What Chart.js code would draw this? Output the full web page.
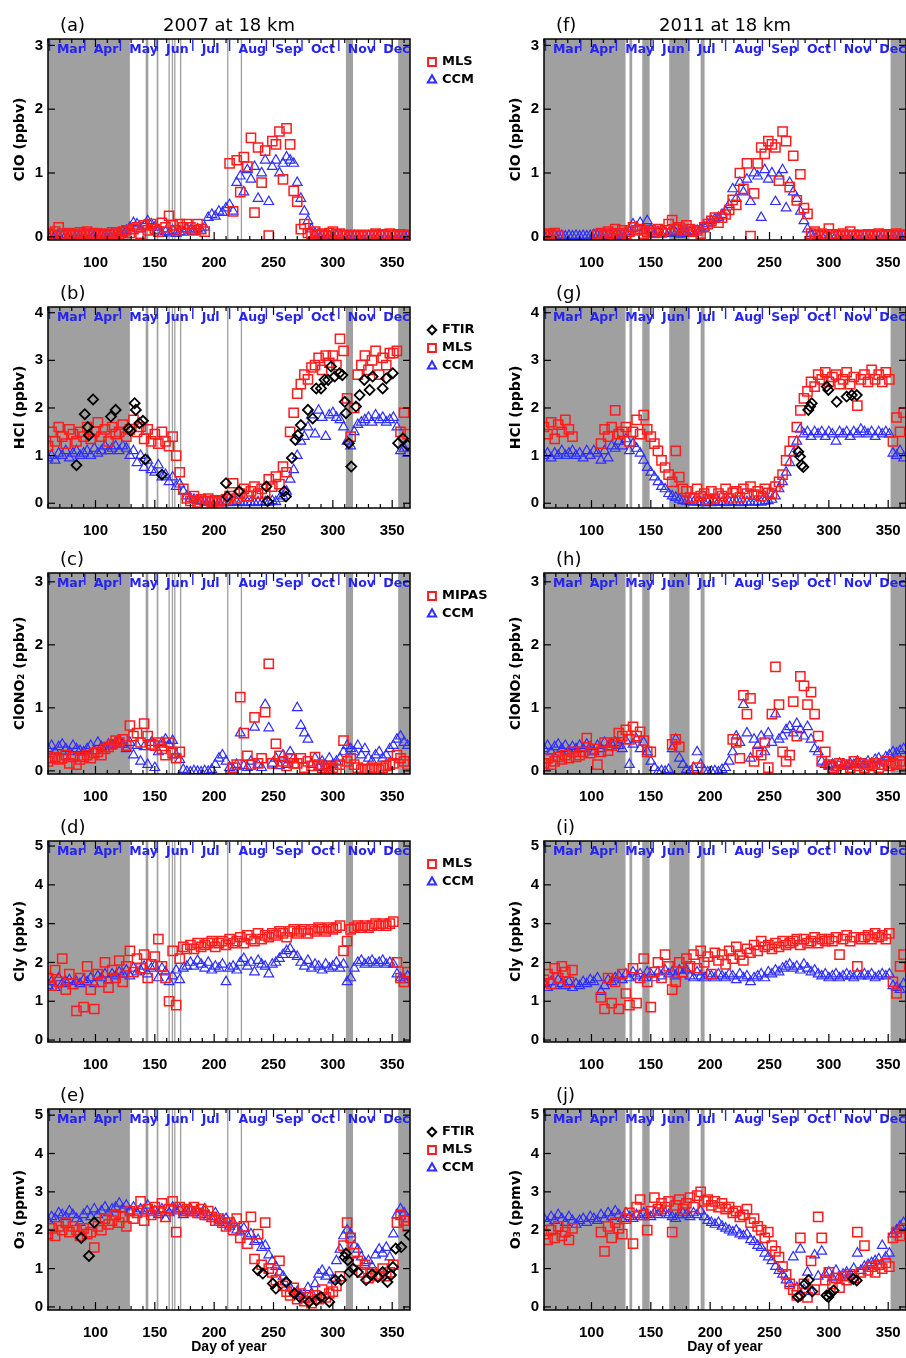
<!DOCTYPE html>
<html>
<head>
<meta charset="utf-8">
<title>Chlorine species and ozone at 18 km, 2007 and 2011</title>
<script src="https://cdn.jsdelivr.net/npm/chart.js@4.4.0/dist/chart.umd.min.js"></script>
<style>
  html, body { margin: 0; padding: 0; background: #fff; }
  body { width: 906px; height: 1358px; overflow: hidden; position: relative; }
  canvas { position: absolute; }
</style>
</head>
<body>
<script>
// ---------- sampling days (day of year) ----------
const DAYS = [60,63,66,69,72,75,78,81,84,87, 90,93,96,99,102,105,108,111,114,117,
  120,123,126,129,132,135,138,141,144,147, 150,153,156,159,162,165,168,171,174,177,
  180,183,186,189,192,195,198,201,204,207, 210,213,216,219,222,225,228,231,234,237,
  240,243,246,249,252,255,258,261,264,267, 270,273,276,279,282,285,288,291,294,297,
  300,303,306,309,312,315,318,321,324,327, 330,333,336,339,342,345,348,351,354,357,
  360,363];

const X_TICKS = [100, 150, 200, 250, 300, 350];
const MONTHS = ['Mar','Apr','May','Jun','Jul','Aug','Sep','Oct','Nov','Dec'];
const MONTH_START = [60, 91, 121, 152, 182, 213, 244, 274, 305, 335];

// shaded periods (day ranges)
const SHADE_2007 = [[60,129],[142.3,144.5],[151.6,153],[161.5,162.1],[164.3,164.9],[166.3,166.9],
  [171.2,172.3],[210.9,211.5],[222.4,223],[311,317],[355,365]];
const SHADE_2011 = [[60,128.7],[132,134.3],[142.8,149],[165.5,182.6],[192,195.3],[352,365]];

// ---------- ClO (ppbv) ----------
const CLO_MLS_2007 = [0.05,0.03,0.08,0.15,0.05,0.02,0.06,0.04,0.03,0.07,
  0.05,0.08,0.04,0.06,0.03,0.05,0.02,0.04,0.07,0.05,
  0.04,0.08,0.1,0.06,0.12,0.15,0.05,0.18,0.1,0.2,
  0.12,0.08,0.22,0.15,0.33,0.18,0.1,0.2,0.15,0.2,
  0.15,0.1,0.2,0.12,0.08,null,null,null,null,null,
  null,1.15,0.4,1.2,0.7,1.25,1.1,1.55,0.38,1.4,
  0.85,1.35,0.02,1.5,1.45,1.65,0.9,1.7,1.45,0.72,
  0.55,0.12,0.2,0.06,0.04,0.08,0.03,0.05,0.02,0.06,
  0.08,0.04,0.05,0.02,0.03,0.01,0.02,0.03,0.01,0.02,
  0.03,0.02,0.05,0.03,0.04,0.02,0.05,0.03,0.02,0.04,
  0.03,0.02];
const CLO_CCM_2007 = [0.02,0.03,0.01,0.02,0.03,0.02,0.01,0.03,0.02,0.02,
  0.02,0.03,0.02,0.01,0.03,0.04,0.02,0.03,0.05,0.04,
  0.06,0.08,0.1,0.15,0.22,0.2,0.12,0.18,0.25,0.2,
  0.15,0.1,0.05,0.08,0.06,0.1,0.05,0.08,0.07,0.12,
  0.1,0.08,0.12,0.1,0.15,0.3,0.35,0.32,0.4,0.38,
  0.45,0.5,0.4,0.85,0.95,0.7,1.05,0.9,1.1,0.6,
  1.0,1.2,0.55,1.1,1.2,1.0,1.15,1.25,1.2,1.15,
  0.85,0.6,0.4,0.25,0.12,0.05,0.03,0.02,0.02,0.01,
  0.02,0.01,0.01,0.02,0.01,0.01,0.02,0.01,0.01,0.01,
  0.01,0.02,0.01,0.01,0.02,0.01,0.01,0.02,0.01,0.01,
  0.02,0.01];
const CLO_MLS_2011 = [0.03,0.05,0.04,0.06,0.02,null,null,null,null,null,
  null,null,null,null,null,0.04,0.06,0.03,0.08,0.05,
  0.12,0.06,0.1,0.04,0.08,0.15,0.1,0.12,0.05,0.08,
  0.1,0.06,0.12,0.08,0.1,0.2,0.26,0.12,0.15,0.1,
  0.18,0.12,0.08,0.1,0.05,0.15,0.2,0.25,0.3,0.22,
  0.3,0.35,0.42,0.58,0.5,1.0,0.75,1.15,0.01,0.68,
  1.15,1.4,1.3,1.5,1.45,1.4,0.88,1.65,1.5,0.78,
  1.27,0.57,0.98,0.45,0.36,0.05,0.08,0.03,0.05,0.02,
  0.13,0.04,0.03,0.02,0.05,0.02,0.08,0.03,0.02,0.03,
  0.02,0.04,0.03,0.02,0.05,0.03,0.04,0.02,0.03,0.05,
  0.02,0.03];
const CLO_CCM_2011 = [0.01,0.02,0.01,0.02,0.01,0.02,0.01,0.02,0.01,0.02,
  0.01,0.02,0.01,0.02,0.03,0.02,0.01,0.02,0.03,0.02,
  0.03,0.02,0.04,0.05,0.08,0.2,0.15,0.22,0.1,0.25,
  0.12,0.05,0.08,0.04,0.06,0.05,0.08,0.06,0.04,0.06,
  0.05,0.08,0.06,0.1,0.12,0.15,0.2,0.25,0.28,0.3,
  0.35,0.4,0.5,0.75,0.6,0.85,0.7,0.9,0.55,1.0,
  0.95,0.3,1.05,0.9,1.0,0.55,0.95,1.05,0.45,0.85,
  0.7,0.6,0.4,0.25,0.12,0.05,0.02,0.01,0.01,0.01,
  0.01,0.02,0.01,0.01,0.02,0.01,0.01,0.02,0.01,0.01,
  0.02,0.01,0.01,0.02,0.01,0.01,0.02,0.01,0.01,0.02,
  0.01,0.02];

// ---------- HCl (ppbv) ----------
const HCL_MLS_2007 = [1.2,1.5,1.3,1.6,1.4,1.25,1.55,1.45,1.3,1.5,
  1.4,1.6,1.35,1.5,1.7,1.4,1.55,1.3,1.6,1.45,
  1.5,1.65,1.4,1.55,1.75,1.5,1.6,1.35,1.55,1.3,
  1.45,1.25,1.5,1.3,1.2,1.4,1.0,0.65,0.3,0.1,
  0.05,0.15,0.02,0.08,0.05,0.1,0.03,0.06,0.04,0.05,
  0.08,0.15,0.42,0.1,0.2,0.3,0.15,0.25,0.35,0.2,
  0.3,0.2,0.5,0.35,0.56,0.4,0.77,0.65,1.5,1.9,
  2.3,2.5,2.7,2.6,2.85,2.9,3.05,2.8,3.1,2.95,
  3.1,2.9,3.45,3.2,2.2,1.4,2.0,2.7,2.9,3.1,
  2.8,3.0,3.2,2.7,3.05,2.9,3.15,3.15,3.2,1.5,
  1.9,1.45];
const HCL_CCM_2007 = [0.95,1.0,0.9,1.05,1.0,1.1,0.95,1.05,1.1,1.0,
  1.05,1.1,1.0,1.15,1.05,1.1,1.2,1.1,1.15,1.2,
  1.1,1.2,1.15,1.0,1.1,0.85,1.0,0.75,0.9,0.7,
  0.65,0.8,0.55,0.6,0.45,0.55,0.35,0.4,0.25,0.15,
  0.1,0.08,0.05,0.04,0.03,0.02,0.03,0.02,0.01,0.02,
  0.02,0.01,0.02,0.03,0.02,0.01,0.02,0.02,0.01,0.03,
  0.02,0.03,0.02,0.05,0.03,0.1,0.15,0.25,0.5,0.7,
  1.0,1.3,1.4,1.6,1.85,1.45,1.95,1.8,1.4,1.85,
  1.9,1.8,1.75,1.6,1.3,1.2,1.5,1.65,1.7,1.75,
  1.8,1.7,1.85,1.75,1.8,1.7,1.75,1.8,1.6,1.1,
  1.15,1.05];
const HCL_FTIR_2007_DAY = [84,91,93.5,94.5,98,113,117,128,129.5,133,134,137,140,142,156,
  210,211,221,244,245,259,260.5,265.5,268.5,270.5,273,279,283,286,290,293,296,298.5,
  301.5,305.5,308,310,311,313.5,315.5,319.5,322.5,326.5,331,333.5,342,345,350.5,355,359,363];
const HCL_FTIR_2007 = [0.8,1.87,1.6,1.43,2.18,1.82,1.96,1.57,1.52,2.1,1.96,1.68,1.73,0.92,0.6,
  0.42,0.14,0.25,0.35,0.04,0.25,0.14,0.95,1.33,1.43,1.64,1.96,1.78,2.41,2.41,2.59,2.59,2.87,
  2.66,2.73,2.69,2.13,1.89,1.26,0.77,2.03,2.27,2.59,2.38,2.66,2.41,2.62,2.73,1.26,1.36,1.22];
const HCL_MLS_2011 = [1.6,1.45,1.7,1.35,1.65,1.5,1.75,1.55,1.4,null,
  null,null,null,null,null,null,1.25,1.55,1.4,1.6,
  1.95,1.45,1.5,1.6,1.3,1.5,1.75,1.45,1.85,1.55,
  1.4,1.25,1.1,0.9,0.75,0.6,0.45,1.1,0.55,0.3,
  0.25,0.12,0.1,0.3,0.15,0.2,0.08,0.25,0.1,0.2,
  0.15,0.3,0.1,0.22,0.25,0.12,0.3,0.2,0.35,0.18,
  0.25,0.15,0.3,0.22,0.2,0.35,0.45,0.6,0.9,1.1,
  1.3,1.6,1.95,2.2,2.35,2.55,2.45,2.7,2.6,2.75,
  2.55,2.65,2.7,2.5,2.6,2.75,2.5,2.65,2.05,2.6,
  2.7,2.55,2.8,2.6,2.7,2.55,2.75,2.6,1.3,1.8,
  1.5,1.9];
const HCL_CCM_2011 = [1.0,1.05,0.95,1.05,1.0,1.1,1.0,1.05,1.1,1.0,
  1.05,0.95,1.1,1.0,1.1,1.05,0.9,1.1,0.95,1.2,
  1.15,1.3,1.2,1.35,1.1,1.25,1.15,1.05,0.9,0.75,
  0.65,0.55,0.45,0.35,0.3,0.2,0.15,0.12,0.08,0.05,
  0.04,0.03,0.02,0.03,0.02,0.01,0.02,0.01,0.02,0.03,
  0.02,0.01,0.02,0.03,0.02,0.01,0.02,0.03,0.02,0.02,
  0.03,0.02,0.04,0.05,0.08,0.15,0.3,0.45,0.65,0.85,
  1.05,1.3,1.55,1.45,1.5,1.4,1.5,1.45,1.5,1.4,
  1.5,1.45,1.3,1.5,1.45,1.5,1.4,1.5,1.45,1.55,
  1.5,1.45,1.5,1.4,1.5,1.45,1.5,1.45,1.05,1.0,
  1.1,0.95];
const HCL_FTIR_2011_DAY = [274.3,275.7,277.1,278.5,282.7,284.2,285.6,298.2,299.6,306.6,315,319.3,323.5];
const HCL_FTIR_2011 = [1.08,0.98,0.8,0.76,1.96,2.03,2.1,2.45,2.38,2.13,2.24,2.27,2.27];

// ---------- ClONO2 (ppbv) ----------
const CLONO2_MIPAS_2007 = [0.15,0.2,0.22,0.18,0.2,0.25,0.12,0.22,0.1,0.18,
  0.22,0.25,0.2,0.28,0.3,0.25,0.35,0.38,0.42,0.48,
  0.45,0.5,0.4,0.72,0.55,0.6,0.45,0.75,0.55,0.42,
  0.4,0.45,0.35,0.25,0.45,0.28,0.2,0.3,null,null,
  null,null,null,null,null,null,null,null,null,null,
  null,null,0.05,0.1,1.17,0.6,0.24,0.1,0.85,0.12,
  0.2,0.93,1.7,0.12,0.43,0.24,0.15,0.08,0.2,0.12,
  0.12,0.2,0.05,0.15,0.08,0.22,0.1,0.05,0.08,0.03,
  0.05,0.02,0.1,0.48,0.15,0.2,0.1,0.05,0.02,0.03,
  0.02,0.05,0.03,0.02,0.05,0.08,0.1,0.12,0.25,0.2,
  0.15,0.1];
const CLONO2_CCM_2007 = [0.35,0.4,0.3,0.38,0.42,0.35,0.3,0.4,0.35,0.32,
  0.3,0.35,0.4,0.32,0.45,0.38,0.35,0.42,0.4,0.45,
  0.48,0.42,0.35,0.45,0.25,0.4,0.15,0.38,0.1,0.45,
  0.05,0.3,0.45,0.5,0.42,0.48,0.25,0.18,0.02,-0.01,
  -0.02,0.0,-0.01,-0.02,0.0,-0.01,0.02,0.1,0.2,0.25,
  0.15,0.05,0.02,0.1,0.6,0.08,0.05,0.15,0.69,0.1,
  0.05,1.05,0.68,0.12,0.2,0.08,0.25,0.1,0.3,0.2,
  1.0,0.72,0.6,0.5,0.1,0.2,0.05,0.15,0.08,0.2,
  0.1,0.15,0.2,0.3,0.4,0.35,0.3,0.4,0.25,0.35,
  0.2,0.15,0.25,0.3,0.2,0.25,0.35,0.4,0.5,0.55,
  0.45,0.4];
const CLONO2_MIPAS_2011 = [0.12,0.2,0.1,0.15,0.22,0.18,0.25,0.2,0.3,0.22,
  0.25,0.3,0.52,0.28,0.35,0.1,0.3,0.45,0.32,0.4,
  0.45,0.6,0.55,0.65,0.5,0.7,0.55,0.62,0.48,0.3,
  0.3,null,null,null,null,null,0.42,0.5,0.38,null,
  null,null,null,0.05,null,null,null,null,null,null,
  null,null,null,0.5,0.45,0.2,1.2,0.9,1.15,0.15,
  0.3,0.25,0.45,0.05,0.9,1.65,1.05,0.3,0.15,0.25,
  1.1,0.55,1.5,1.35,1.05,1.25,0.9,0.55,0.15,0.3,
  0.1,0.05,0.08,0.12,0.02,0.1,0.05,0.15,0.08,0.12,
  0.05,0.1,0.08,0.12,0.05,0.1,0.15,0.08,0.12,0.1,
  0.15,0.1];
const CLONO2_CCM_2011 = [0.35,0.4,0.3,0.38,0.42,0.35,0.4,0.32,0.38,0.35,
  0.4,0.35,0.42,0.38,0.3,0.4,0.35,0.45,0.38,0.42,
  0.45,0.4,0.35,0.48,0.1,0.42,0.5,0.35,0.45,0.3,
  0.15,0.05,-0.02,0.0,-0.01,0.02,0.35,0.5,0.2,0.1,
  0.02,-0.01,0.05,0.3,0.1,0.0,-0.02,-0.01,0.0,-0.02,
  0.02,0.05,0.15,0.3,0.55,0.45,1.05,0.6,0.2,0.5,
  0.4,0.55,0.3,0.6,0.45,0.9,0.5,0.55,0.65,0.7,
  0.6,0.75,0.65,0.55,0.7,0.5,0.35,0.3,0.15,0.1,
  0.08,0.1,0.05,0.12,0.1,0.08,0.12,0.1,0.15,0.12,
  0.1,0.15,0.12,0.18,0.2,0.15,0.22,0.25,0.3,0.28,
  0.32,0.35];

// ---------- Cly (ppbv) ----------
const CLY_MLS_2007 = [1.6,1.4,1.8,1.5,2.1,1.3,1.7,1.45,0.75,1.6,
  0.85,1.9,1.3,0.8,1.7,1.5,2.0,1.35,1.8,1.6,
  2.05,1.5,1.9,2.3,1.75,2.1,1.85,2.2,1.6,1.95,
  2.15,2.6,1.9,1.6,1.0,2.3,0.9,2.1,2.4,2.35,
  2.45,2.35,2.5,2.4,2.45,2.5,2.55,2.4,2.5,2.55,
  2.45,2.6,2.5,2.55,2.65,2.5,2.7,2.6,2.55,2.75,
  2.6,2.7,2.65,2.75,2.7,2.8,2.75,2.65,2.8,2.85,
  2.75,2.8,2.85,2.75,2.85,2.8,2.9,2.85,2.8,2.9,
  2.85,2.9,2.95,2.3,2.55,2.85,2.9,2.95,2.9,2.95,
  2.9,2.95,3.0,2.95,3.0,2.95,3.0,3.05,2.0,1.6,
  1.5,1.75];
const CLY_CCM_2007 = [1.4,1.5,1.35,1.6,1.45,1.5,1.55,1.4,1.5,1.45,
  1.55,1.5,1.6,1.45,1.65,1.6,1.7,1.55,1.7,1.65,
  1.75,1.7,1.8,1.65,1.85,1.75,1.8,1.9,1.7,1.85,
  1.9,1.6,1.85,1.75,1.5,1.65,1.8,1.55,1.85,1.9,
  2.0,1.9,2.05,1.95,1.85,2.0,1.8,1.9,1.85,1.95,
  1.5,1.85,1.9,1.8,2.0,2.1,1.9,2.0,1.75,2.05,
  1.95,1.9,1.7,1.95,2.0,2.1,2.2,2.3,2.35,2.2,
  2.15,2.0,1.9,2.05,1.85,1.95,1.9,1.8,1.95,1.85,
  1.9,2.0,1.85,1.95,1.5,1.6,1.85,2.0,2.05,1.95,
  2.0,2.05,1.95,2.0,2.05,1.95,2.0,1.95,1.7,1.6,
  1.55,1.65];
const CLY_MLS_2011 = [1.55,1.7,1.45,1.85,1.6,1.9,1.75,1.5,1.8,null,
  null,null,null,null,null,null,1.1,0.8,1.6,0.95,
  1.5,0.8,1.7,1.2,0.9,1.85,0.95,1.6,2.1,1.5,
  0.85,1.75,2.0,1.6,2.2,1.9,1.3,1.5,2.0,1.75,
  2.1,1.9,2.2,1.85,2.3,2.0,2.15,1.7,2.25,2.05,
  2.2,1.95,2.3,2.1,2.4,2.2,2.05,2.35,2.25,2.45,
  2.3,2.55,2.4,2.45,2.35,2.5,2.4,2.55,2.45,2.5,
  2.55,2.6,2.45,2.6,2.5,2.55,2.65,2.5,2.6,2.55,
  2.6,2.55,2.65,2.2,2.6,2.7,2.55,2.65,1.9,2.6,
  2.65,2.7,2.6,2.75,2.65,2.7,2.6,2.75,1.5,1.2,
  1.9,2.2];
const CLY_CCM_2011 = [1.45,1.35,1.5,1.4,1.55,1.45,1.4,1.5,1.35,1.45,
  1.4,1.5,1.45,1.55,1.5,1.6,1.25,1.4,1.55,1.5,
  1.6,1.65,1.55,1.7,1.6,1.75,1.65,1.7,1.6,1.75,
  1.7,1.6,1.75,1.65,1.8,1.7,1.75,1.65,1.8,1.7,
  1.8,1.65,1.6,1.75,1.65,1.6,1.7,1.65,1.6,1.7,
  1.65,1.6,1.7,1.65,1.55,1.7,1.6,1.65,1.5,1.6,
  1.65,1.7,1.6,1.75,1.7,1.8,1.75,1.85,1.9,1.95,
  1.85,1.9,1.8,1.95,1.85,1.75,1.8,1.7,1.65,1.7,
  1.6,1.65,1.7,1.6,1.65,1.7,1.65,1.6,1.7,1.65,
  1.7,1.65,1.7,1.6,1.65,1.7,1.65,1.7,1.4,1.35,
  1.3,1.45];

// ---------- O3 (ppmv) ----------
const O3_MLS_2007 = [1.9,2.05,1.85,2.1,2.0,2.2,1.95,2.1,2.0,1.85,
  2.05,1.9,1.95,1.55,2.1,2.0,2.3,2.15,2.25,2.4,
  2.2,2.35,2.1,2.5,2.3,2.45,2.75,2.25,2.55,2.4,
  2.6,2.5,2.7,2.35,2.55,2.75,1.95,2.6,2.5,2.55,
  2.5,2.6,2.45,2.55,2.4,2.5,2.35,2.25,2.3,2.2,
  2.1,2.2,2.0,2.3,1.8,2.1,1.65,2.35,1.25,1.9,
  1.1,2.2,1.0,0.9,0.7,1.2,0.55,0.4,0.3,0.5,
  0.2,0.35,0.15,0.25,0.1,0.3,0.2,0.45,0.25,0.35,
  0.4,0.55,0.8,1.6,2.2,1.8,1.4,1.2,0.9,1.1,
  0.75,0.9,0.8,0.85,1.0,0.8,0.9,1.1,2.2,2.4,
  2.25,2.1];
const O3_CCM_2007 = [2.25,2.35,2.3,2.45,2.4,2.35,2.5,2.4,2.3,2.2,
  2.4,2.5,2.35,2.55,2.4,2.5,2.6,2.45,2.55,2.6,
  2.7,2.55,2.65,2.5,2.6,2.45,2.55,2.5,2.65,2.45,
  2.5,2.4,2.55,2.3,2.45,2.6,2.5,2.55,2.4,2.5,
  2.55,2.45,2.5,2.4,2.55,2.35,2.3,2.45,2.2,2.25,
  2.3,2.1,2.2,2.0,1.95,2.05,1.85,1.9,1.7,1.75,
  1.55,1.6,1.35,1.2,1.05,0.9,0.8,0.65,0.5,0.35,
  0.4,0.3,0.2,0.5,0.35,0.6,0.85,0.95,0.8,0.9,
  0.7,1.2,1.5,1.85,2.0,1.9,1.6,1.5,1.3,1.15,
  1.2,1.05,1.35,1.5,1.4,1.55,1.3,1.9,2.4,2.55,
  2.45,2.3];
const O3_FTIR_2007_DAY = [88,94.5,99,236.8,241,249.4,252,260.7,267.7,272,280,286,290,297,
  302,307,309.8,311,312.6,314,317,321,328,333,338,342,346,349,350.6,353,357.6,364.6];
const O3_FTIR_2007 = [1.8,1.33,2.2,0.96,0.87,0.61,0.48,0.65,0.35,0.26,0.13,0.17,0.26,0.13,
  0.7,0.7,1.3,1.39,1.22,0.91,1.0,0.91,0.7,0.85,0.78,0.91,0.65,0.83,1.04,1.52,1.56,1.87];
const O3_MLS_2011 = [1.9,1.75,2.0,1.8,2.1,1.85,1.95,1.75,2.05,null,
  null,null,null,null,null,null,1.95,1.45,2.1,1.8,
  2.2,2.05,1.9,2.3,2.45,1.65,2.6,2.8,2.4,2.0,
  2.5,2.85,2.55,2.7,2.6,2.75,1.95,2.65,2.8,2.55,
  2.7,2.85,2.6,2.9,3.0,2.75,2.8,2.65,2.75,2.6,
  2.7,2.55,2.6,2.45,2.5,2.35,2.4,2.55,2.2,2.3,
  2.1,2.0,1.8,1.95,1.6,1.45,1.3,1.05,0.85,0.6,
  0.45,0.3,1.8,0.6,0.25,1.2,0.45,2.35,1.8,0.7,
  0.9,0.6,0.75,0.5,0.8,0.7,0.85,0.75,1.95,0.9,
  1.6,0.95,1.05,0.9,1.1,1.0,1.15,1.05,1.8,1.95,
  1.85,2.05];
const O3_CCM_2011 = [2.3,2.2,2.35,2.25,2.4,2.3,2.2,2.35,2.25,2.15,
  2.25,2.3,2.2,2.35,2.3,2.25,2.4,2.3,2.45,2.35,
  2.5,2.4,2.3,2.45,2.35,2.3,2.4,2.35,2.45,2.4,
  2.35,2.45,2.4,2.5,2.45,2.4,2.35,2.3,2.4,2.45,
  2.4,2.35,2.45,2.4,2.5,2.35,2.25,2.2,2.15,2.2,
  2.1,2.05,2.0,1.95,2.0,1.9,1.85,1.9,1.75,1.7,
  1.6,1.55,1.4,1.3,1.2,1.05,0.95,0.85,0.7,0.6,
  1.3,0.5,1.5,0.45,0.9,0.4,1.35,0.8,1.45,0.85,
  0.9,0.75,0.95,0.8,0.85,0.9,0.85,1.0,1.4,0.95,
  1.05,1.1,1.15,1.2,1.25,1.6,1.3,1.4,1.9,2.0,
  2.1,2.2];
const O3_FTIR_2011_DAY = [274,276,280,283,286,298,299.6,301,304,320.6,323.5];
const O3_FTIR_2011 = [0.26,0.3,0.6,0.7,0.4,0.3,0.26,0.35,0.43,0.73,0.69];

// ---------- styles ----------
const MONTH_BLUE = '#2424f0';
const STYLE = {
  mls:  { pointStyle: 'rect',     radius: 6.5, color: '#ff1c1c', width: 1.5, order: 1 },
  ccm:  { pointStyle: 'triangle', radius: 5.6, color: '#2e2eff', width: 1.2, order: 2 },
  ftir: { pointStyle: 'rectRot',  radius: 5,   color: '#000000', width: 1.8, order: 0 }
};

// ---------- panels ----------
const PANELS = [
  { col: 0, row: 0, tag: '(a)', head: '2007 at 18 km', ytitle: 'ClO (ppbv)', ymin: -0.05, ymax: 3.1, yticks: [0,1,2,3], shade: SHADE_2007, legend: true,
    series: [{ kind: 'mls', label: 'MLS', vals: CLO_MLS_2007 }, { kind: 'ccm', label: 'CCM', vals: CLO_CCM_2007 }] },
  { col: 0, row: 1, tag: '(b)', ytitle: 'HCl (ppbv)', ymin: -0.1, ymax: 4.12, yticks: [0,1,2,3,4], shade: SHADE_2007, legend: true,
    series: [{ kind: 'ftir', label: 'FTIR', days: HCL_FTIR_2007_DAY, vals: HCL_FTIR_2007 }, { kind: 'mls', label: 'MLS', vals: HCL_MLS_2007 }, { kind: 'ccm', label: 'CCM', vals: HCL_CCM_2007 }] },
  { col: 0, row: 2, tag: '(c)', ytitle: 'ClONO\u2082 (ppbv)', ymin: -0.05, ymax: 3.14, yticks: [0,1,2,3], shade: SHADE_2007, legend: true,
    series: [{ kind: 'mls', label: 'MIPAS', vals: CLONO2_MIPAS_2007 }, { kind: 'ccm', label: 'CCM', vals: CLONO2_CCM_2007 }] },
  { col: 0, row: 3, tag: '(d)', ytitle: 'Cly (ppbv)', ymin: -0.05, ymax: 5.13, yticks: [0,1,2,3,4,5], shade: SHADE_2007, legend: true,
    series: [{ kind: 'mls', label: 'MLS', vals: CLY_MLS_2007 }, { kind: 'ccm', label: 'CCM', vals: CLY_CCM_2007 }] },
  { col: 0, row: 4, tag: '(e)', ytitle: 'O\u2083 (ppmv)', ymin: -0.08, ymax: 5.16, yticks: [0,1,2,3,4,5], shade: SHADE_2007, legend: true,
    series: [{ kind: 'ftir', label: 'FTIR', days: O3_FTIR_2007_DAY, vals: O3_FTIR_2007 }, { kind: 'mls', label: 'MLS', vals: O3_MLS_2007 }, { kind: 'ccm', label: 'CCM', vals: O3_CCM_2007 }] },

  { col: 1, row: 0, tag: '(f)', head: '2011 at 18 km', ytitle: 'ClO (ppbv)', ymin: -0.05, ymax: 3.1, yticks: [0,1,2,3], shade: SHADE_2011,
    series: [{ kind: 'mls', label: 'MLS', vals: CLO_MLS_2011 }, { kind: 'ccm', label: 'CCM', vals: CLO_CCM_2011 }] },
  { col: 1, row: 1, tag: '(g)', ytitle: 'HCl (ppbv)', ymin: -0.1, ymax: 4.12, yticks: [0,1,2,3,4], shade: SHADE_2011,
    series: [{ kind: 'ftir', label: 'FTIR', days: HCL_FTIR_2011_DAY, vals: HCL_FTIR_2011 }, { kind: 'mls', label: 'MLS', vals: HCL_MLS_2011 }, { kind: 'ccm', label: 'CCM', vals: HCL_CCM_2011 }] },
  { col: 1, row: 2, tag: '(h)', ytitle: 'ClONO\u2082 (ppbv)', ymin: -0.05, ymax: 3.14, yticks: [0,1,2,3], shade: SHADE_2011,
    series: [{ kind: 'mls', label: 'MIPAS', vals: CLONO2_MIPAS_2011 }, { kind: 'ccm', label: 'CCM', vals: CLONO2_CCM_2011 }] },
  { col: 1, row: 3, tag: '(i)', ytitle: 'Cly (ppbv)', ymin: -0.05, ymax: 5.13, yticks: [0,1,2,3,4,5], shade: SHADE_2011,
    series: [{ kind: 'mls', label: 'MLS', vals: CLY_MLS_2011 }, { kind: 'ccm', label: 'CCM', vals: CLY_CCM_2011 }] },
  { col: 1, row: 4, tag: '(j)', ytitle: 'O\u2083 (ppmv)', ymin: -0.08, ymax: 5.16, yticks: [0,1,2,3,4,5], shade: SHADE_2011,
    series: [{ kind: 'ftir', label: 'FTIR', days: O3_FTIR_2011_DAY, vals: O3_FTIR_2011 }, { kind: 'mls', label: 'MLS', vals: O3_MLS_2011 }, { kind: 'ccm', label: 'CCM', vals: O3_CCM_2011 }] }
];

// canvas placement per column / row
const COL_LEFT = [0, 496], COL_WIDTH = [496, 420], COL_PAD_RIGHT = [86, 10];
const ROW_TOP = [0, 268, 534, 802, 1070], ROW_HEIGHT = [268, 268, 268, 268, 288];
const PLOT_TOP = 39, YAXIS_W = 48;

function toPoints(s) {
  const out = [];
  s.vals.forEach((v, i) => {
    if (v === null) return;
    out.push({ x: s.days ? s.days[i] : DAYS[i], y: v });
  });
  return out;
}

function markerPath(ctx, style, r, x, y) {
  ctx.beginPath();
  if (style === 'rect') {
    const h = r * Math.SQRT1_2;
    ctx.rect(x - h, y - h, 2 * h, 2 * h);
  } else if (style === 'triangle') {
    ctx.moveTo(x, y - r);
    ctx.lineTo(x + r * 0.866, y + r * 0.5);
    ctx.lineTo(x - r * 0.866, y + r * 0.5);
    ctx.closePath();
  } else {
    ctx.moveTo(x - r, y); ctx.lineTo(x, y - r); ctx.lineTo(x + r, y); ctx.lineTo(x, y + r);
    ctx.closePath();
  }
}

function seg(ctx, x0, y0, x1, y1) {
  ctx.beginPath(); ctx.moveTo(x0, y0); ctx.lineTo(x1, y1); ctx.stroke();
}

// shaded periods, frame, ticks, month strip, panel tag, heading and legend
const panelDecor = {
  id: 'panelDecor',
  beforeDatasetsDraw(chart, _args, o) {
    const { ctx, chartArea: a } = chart;
    const xs = chart.scales.x;
    ctx.save();
    ctx.fillStyle = '#a0a0a0';
    o.shade.forEach(([s, e]) => {
      const x0 = Math.max(a.left, xs.getPixelForValue(s));
      const x1 = Math.min(a.right, xs.getPixelForValue(e));
      ctx.fillRect(x0, a.top, Math.max(1.3, x1 - x0), a.bottom - a.top);
    });
    ctx.restore();
  },
  afterDatasetsDraw(chart, _args, o) {
    const { ctx, chartArea: a } = chart;
    const xs = chart.scales.x, ys = chart.scales.y;
    ctx.save();

    // month strip along the top
    ctx.strokeStyle = MONTH_BLUE; ctx.lineWidth = 1.4;
    MONTH_START.forEach(d => {
      const px = xs.getPixelForValue(d) + (d === 60 ? 1.5 : 0);
      seg(ctx, px, a.top + 1, px, a.top + 12);
    });
    ctx.fillStyle = MONTH_BLUE;
    ctx.font = 'bold 12.5px "DejaVu Sans"';
    ctx.textAlign = 'left'; ctx.textBaseline = 'middle';
    MONTHS.forEach((m, i) => ctx.fillText(m, xs.getPixelForValue(MONTH_START[i] + 7.5), a.top + 11));

    // frame and tick marks
    ctx.strokeStyle = '#000'; ctx.lineWidth = 1.5;
    ctx.strokeRect(a.left, a.top, a.right - a.left, a.bottom - a.top);
    ctx.lineWidth = 1.2;
    for (let d = 60; d <= 360; d += 10) {
      const px = xs.getPixelForValue(d);
      const len = d % 50 === 0 ? 8 : 4;
      seg(ctx, px, a.bottom, px, a.bottom - len);
      seg(ctx, px, a.top, px, a.top + len);
    }
    o.yticks.forEach(v => {
      const py = ys.getPixelForValue(v);
      seg(ctx, a.left, py, a.left + 7, py);
      seg(ctx, a.right, py, a.right - 7, py);
    });

    // panel tag and heading
    ctx.fillStyle = '#000';
    ctx.font = '18px "DejaVu Sans"';
    ctx.textAlign = 'left'; ctx.textBaseline = 'middle';
    ctx.fillText(o.tag, a.left + 12, a.top - 13);
    if (o.head) {
      ctx.font = '18px "DejaVu Sans"';
      ctx.textAlign = 'center';
      ctx.fillText(o.head, (a.left + a.right) / 2, a.top - 13);
    }

    // legend to the right of the plot
    if (o.legend) {
      ctx.font = 'bold 13px "DejaVu Sans"';
      ctx.textAlign = 'left'; ctx.textBaseline = 'middle';
      o.legend.forEach((it, i) => {
        const st = STYLE[it.kind];
        const y = a.top + 23 + i * 18;
        ctx.strokeStyle = st.color; ctx.lineWidth = 2;
        markerPath(ctx, st.pointStyle, st.radius * 0.85, a.right + 22, y);
        ctx.stroke();
        ctx.fillStyle = '#000';
        ctx.fillText(it.label, a.right + 32, y);
      });
    }
    ctx.restore();
  }
};

PANELS.forEach(p => {
  const W = COL_WIDTH[p.col], H = ROW_HEIGHT[p.row];
  const cv = document.createElement('canvas');
  cv.width = W; cv.height = H;
  cv.style.left = COL_LEFT[p.col] + 'px';
  cv.style.top = ROW_TOP[p.row] + 'px';
  cv.style.width = W + 'px'; cv.style.height = H + 'px';
  document.body.appendChild(cv);

  const lastRow = p.row === 4;
  const datasets = p.series.map(s => {
    const st = STYLE[s.kind];
    return {
      label: s.label,
      data: toPoints(s),
      showLine: false,
      order: st.order,
      pointStyle: st.pointStyle,
      pointRadius: st.radius,
      pointBorderColor: st.color,
      pointBackgroundColor: 'rgba(0,0,0,0)',
      pointBorderWidth: st.width,
      borderColor: st.color,
      backgroundColor: 'rgba(0,0,0,0)'
    };
  });

  new Chart(cv, {
    type: 'scatter',
    data: { datasets },
    plugins: [panelDecor],
    options: {
      responsive: false,
      animation: false,
      devicePixelRatio: 1,
      events: [],
      layout: { padding: { top: PLOT_TOP, left: 0, right: COL_PAD_RIGHT[p.col], bottom: 0 } },
      plugins: {
        legend: { display: false },
        tooltip: { enabled: false },
        panelDecor: {
          shade: p.shade, yticks: p.yticks, tag: p.tag, head: p.head,
          legend: p.legend ? p.series.map(s => ({ kind: s.kind, label: s.label })) : null
        }
      },
      scales: {
        x: {
          type: 'linear', position: 'bottom', min: 60, max: 365,
          grid: { display: false, drawTicks: false },
          border: { display: false },
          afterBuildTicks: sc => { sc.ticks = X_TICKS.map(v => ({ value: v })); },
          afterFit: sc => { sc.height = lastRow ? 48 : 28; },
          ticks: {
            autoSkip: false, maxRotation: 0, padding: 14, color: '#000',
            font: { family: 'Liberation Sans', size: 15, weight: 'bold' }
          },
          title: {
            display: lastRow, text: 'Day of year', color: '#000',
            padding: { top: 0, bottom: 2 },
            font: { family: 'Liberation Sans', size: 14, weight: 'bold' }
          }
        },
        y: {
          type: 'linear', position: 'left', min: p.ymin, max: p.ymax,
          grid: { display: false, drawTicks: false },
          border: { display: false },
          afterBuildTicks: sc => { sc.ticks = p.yticks.map(v => ({ value: v })); },
          afterFit: sc => { sc.width = YAXIS_W; },
          ticks: {
            padding: 5, color: '#000',
            font: { family: 'Liberation Sans', size: 15, weight: 'bold' }
          },
          title: {
            display: true, text: p.ytitle, color: '#000',
            padding: { top: 12, bottom: 0 },
            font: { family: 'DejaVu Sans', size: 14, weight: 'bold' }
          }
        }
      }
    }
  });
});
</script>
</body>
</html>
